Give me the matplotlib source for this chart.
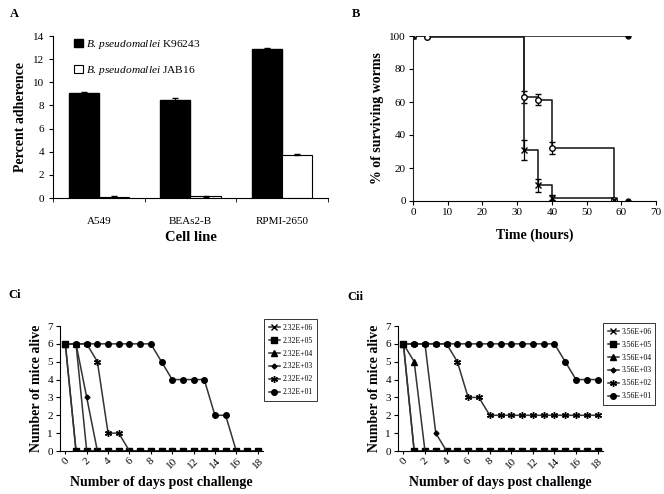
import matplotlib
matplotlib.use("Agg")
import matplotlib.pyplot as plt
import numpy as np

plt.rcParams['font.family'] = ['Liberation Serif', 'DejaVu Serif']
plt.rcParams['mathtext.fontset'] = 'custom'
plt.rcParams['mathtext.rm'] = 'Liberation Serif'
plt.rcParams['mathtext.it'] = 'Liberation Serif:italic'

# ---------- Panel A data ----------
cell_lines = ["A549", "BEAs2-B", "RPMI-2650"]
k96243 = [9.05, 8.5, 12.9]
k96243_err = [0.08, 0.1, 0.05]
jab16 = [0.1, 0.15, 3.75]
jab16_err = [0.05, 0.03, 0.05]

# ---------- Panel B data ----------
ctrl_t = [0, 62]
ctrl_v = [100, 100]
open_t = [0, 4, 32, 36, 40, 58]
open_v = [100, 99.5, 63, 61.5, 32, 0.5]
open_e = [0, 0, 3.5, 3.5, 3.5, 0]
x_t = [0, 32, 36, 40, 58]
x_v = [100, 31, 9.5, 2, 0.5]
x_e = [0, 6, 4, 1.5, 0]
dead_t = [62]
dead_v = [0]

# ---------- Panel C data ----------
days = list(range(19))
ci_labels = ["2.32E+06", "2.32E+05", "2.32E+04", "2.32E+03", "2.32E+02", "2.32E+01"]
ci_vals = [
    [6] + [0] * 18,
    [6] + [0] * 18,
    [6, 6] + [0] * 17,
    [6, 6, 3] + [0] * 16,
    [6, 6, 6, 5, 1, 1] + [0] * 13,
    [6] * 9 + [5, 4, 4, 4, 4, 2, 2, 0, 0, 0],
]
cii_labels = ["3.56E+06", "3.56E+05", "3.56E+04", "3.56E+03", "3.56E+02", "3.56E+01"]
cii_vals = [
    [6] + [0] * 18,
    [6] + [0] * 18,
    [6, 5] + [0] * 17,
    [6, 6, 6, 1] + [0] * 15,
    [6, 6, 6, 6, 6, 5, 3, 3] + [2] * 11,
    [6] * 15 + [5, 4, 4, 4],
]
markers = ['x', 's', '^', 'D', (6, 2, 0), 'o']
msizes = [4, 4, 4, 2.5, 5, 4]

fig = plt.figure(figsize=(6.64, 4.94), dpi=100)
W, H = 664, 494

def ax_px(l, r, t, b):
    return fig.add_axes([l / W, 1 - b / H, (r - l) / W, (b - t) / H])

# ---------- Panel A ----------
axA = ax_px(53, 328, 36, 198)
xpos = np.arange(len(cell_lines))
bw = 0.33
axA.bar(xpos - bw / 2, k96243, bw, color='black', edgecolor='black',
        yerr=k96243_err, capsize=2, error_kw=dict(lw=0.8),
        label=r"$\it{B.\,pseudomallei}$ K96243")
axA.bar(xpos + bw / 2, jab16, bw, color='white', edgecolor='black', lw=0.8,
        yerr=jab16_err, capsize=2, error_kw=dict(lw=0.8),
        label=r"$\it{B.\,pseudomallei}$ JAB16")
axA.set_xlim(-0.5, 2.5)
axA.set_ylim(0, 14)
axA.set_yticks(range(0, 15, 2))
axA.set_xticks(xpos)
axA.set_xticklabels(cell_lines)
axA.set_xticks([-0.5, 0.5, 1.5, 2.5], minor=True)
axA.tick_params(axis='x', which='major', length=0, pad=14, labelsize=8)
axA.tick_params(axis='x', which='minor', length=3, direction='out')
axA.tick_params(axis='y', labelsize=8, length=3, direction='out')
for s in ['top', 'right']:
    axA.spines[s].set_visible(False)
axA.set_ylabel("Percent adherence", fontsize=10, fontweight='bold')
axA.set_xlabel("Cell line", fontsize=10.5, fontweight='bold', labelpad=3)
axA.legend(loc='upper left', bbox_to_anchor=(0.04, 1.05), frameon=False,
           fontsize=8.2, handlelength=0.75, handleheight=0.75, labelspacing=1.1,
           handletextpad=0.3)
fig.text(10 / W, 1 - 14 / H, "A", fontsize=9, fontweight='bold', va='center')

# ---------- Panel B ----------
axB = ax_px(413, 656, 36, 201)
lc = '#222222'
axB.step(ctrl_t, ctrl_v, where='post', color=lc, lw=1.2)
axB.plot(ctrl_t, ctrl_v, 'o', color='black', ms=3.5)
axB.step(open_t, open_v, where='post', color=lc, lw=1.2)
axB.errorbar(open_t, open_v, yerr=open_e, fmt='o', mfc='white', mec='black',
             ms=4, ecolor='black', elinewidth=0.9, capsize=2.5)
axB.step(x_t, x_v, where='post', color=lc, lw=1.2)
axB.errorbar(x_t, x_v, yerr=x_e, fmt='x', color='black', ms=4,
             ecolor='black', elinewidth=0.9, capsize=2.5)
axB.plot(dead_t, dead_v, 'o', color='black', ms=3.5)
axB.set_xlim(0, 70)
axB.set_ylim(0, 100)
axB.set_xticks(range(0, 71, 10))
axB.set_yticks(range(0, 101, 20))
axB.tick_params(labelsize=8, length=3, direction='out', pad=2)
for s in ['top', 'right']:
    axB.spines[s].set_visible(False)
axB.spines['left'].set_color(lc)
axB.set_ylabel("% of surviving worms", fontsize=10, fontweight='bold')
axB.set_xlabel("Time (hours)", fontsize=10, fontweight='bold', labelpad=8)
axB.patch.set_alpha(0)
fig.text(352 / W, 1 - 14 / H, "B", fontsize=9, fontweight='bold', va='center')

# ---------- Panel C ----------
def draw_c(ax, vals, labels, leg_box):
    for v, lab, m, s in zip(vals, labels, markers, msizes):
        ax.plot(days, v, color='#333333', lw=1.1, marker=m, ms=s,
                mfc='black', mec='black', mew=1.0, label=lab)
    ax.set_xlim(-0.5, 18.5)
    ax.set_ylim(0, 7)
    ax.set_yticks(range(8))
    ax.set_xticks(range(0, 19, 2))
    ax.tick_params(axis='x', labelsize=8, rotation=45, length=2, pad=2)
    ax.tick_params(axis='y', labelsize=8, length=3, direction='out', pad=2)
    for s in ['top', 'right']:
        ax.spines[s].set_visible(False)
    ax.set_ylabel("Number of mice alive", fontsize=10, fontweight='bold', labelpad=3)
    ax.set_xlabel("Number of days post challenge", fontsize=10, fontweight='bold', labelpad=4)
    l, r, t, b = leg_box
    leg = ax.legend(loc='upper left',
                    bbox_to_anchor=(l / W, 1 - b / H, (r - l) / W, (b - t) / H),
                    bbox_transform=fig.transFigure, mode='expand',
                    fontsize=5.5, frameon=True, fancybox=False, edgecolor='black',
                    handlelength=1.5, borderpad=0.6, labelspacing=0.65,
                    handletextpad=0.3, borderaxespad=0)
    leg.get_frame().set_linewidth(0.7)

axCi = ax_px(60, 263, 326, 451)
draw_c(axCi, ci_vals, ci_labels, (264, 317, 319, 398))
fig.text(8 / W, 1 - 295 / H, "Ci", fontsize=9, fontweight='bold', va='center')

axCii = ax_px(398, 603, 326, 451)
draw_c(axCii, cii_vals, cii_labels, (603, 655, 323, 398))
fig.text(347 / W, 1 - 297 / H, "Cii", fontsize=9, fontweight='bold', va='center')

fig.savefig("out.png", dpi=100)
